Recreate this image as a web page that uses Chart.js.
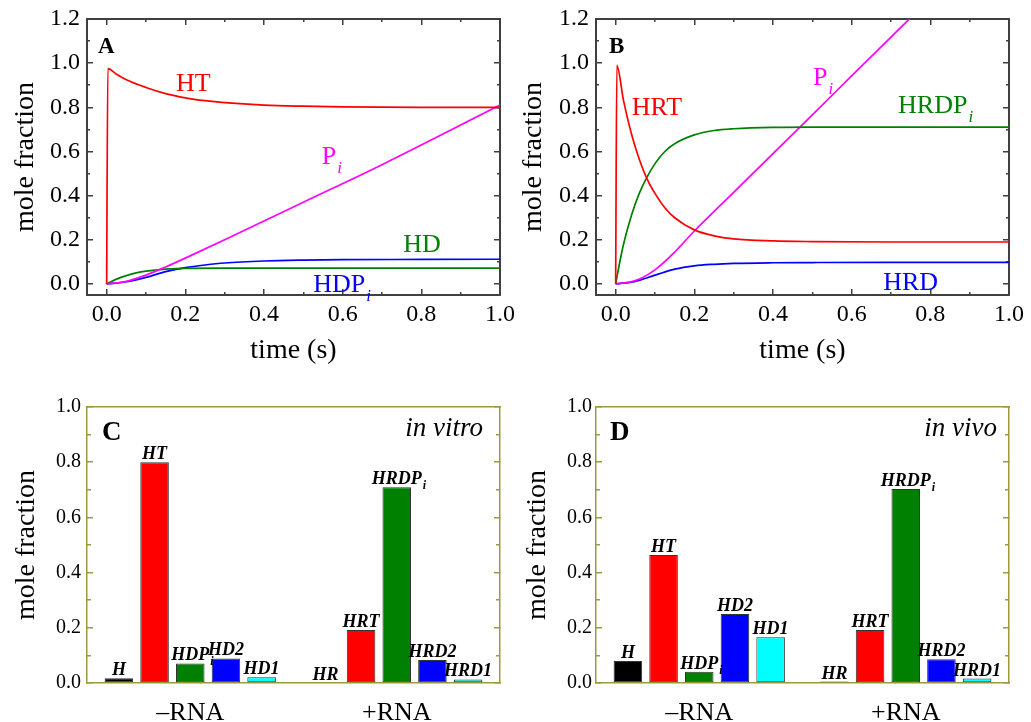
<!DOCTYPE html>
<html><head><meta charset="utf-8"><title>mole fraction</title>
<script src="https://cdn.jsdelivr.net/npm/chart.js@4.4.1/dist/chart.umd.min.js"></script>
<style>
html,body{margin:0;padding:0;background:#fff}
body{width:1031px;height:722px;position:relative;overflow:hidden}
canvas{position:absolute}
</style>
</head><body>
<canvas id="cA" width="515" height="380" style="left:0;top:0"></canvas>
<canvas id="cB" width="516" height="380" style="left:515px;top:0"></canvas>
<canvas id="cC" width="515" height="337" style="left:0;top:385px"></canvas>
<canvas id="cD" width="516" height="337" style="left:515px;top:385px"></canvas>
<script>
// ---------- tick values ----------
const lineXMajor = [0, 0.2, 0.4, 0.6, 0.8, 1.0];
const lineXMinor = [0.1, 0.3, 0.5, 0.7, 0.9];
const lineYMajor = [0, 0.2, 0.4, 0.6, 0.8, 1.0, 1.2];
const lineYMinor = [0.1, 0.3, 0.5, 0.7, 0.9, 1.1];
const barYMajor = [0, 0.2, 0.4, 0.6, 0.8, 1.0];
const barYMinor = [0.1, 0.3, 0.5, 0.7, 0.9];

// ---------- Panel A (no RNA): time (s) / mole fraction ----------
const aHT_t   = [0, 0.003, 0.025, 0.05, 0.1, 0.15, 0.2, 0.25, 0.3, 0.4, 0.5, 0.6, 0.8, 1.0];
const aHT_v   = [0, 0.975, 0.95, 0.925, 0.89, 0.862, 0.843, 0.83, 0.821, 0.81, 0.805, 0.802, 0.80, 0.80];
const aPi_t   = [0, 0.05, 0.1, 0.15, 0.2, 0.3, 0.5, 0.7, 1.0];
const aPi_v   = [0, 0.012, 0.04, 0.077, 0.117, 0.2, 0.37, 0.54, 0.81];
const aHD_t   = [0, 0.025, 0.05, 0.075, 0.1, 0.15, 0.2, 0.3, 0.5, 1.0];
const aHD_v   = [0, 0.022, 0.038, 0.05, 0.058, 0.067, 0.071, 0.072, 0.072, 0.072];
const aHDP_t  = [0, 0.05, 0.1, 0.15, 0.2, 0.25, 0.3, 0.4, 0.5, 0.6, 0.8, 1.0];
const aHDP_v  = [0, 0.01, 0.03, 0.056, 0.074, 0.086, 0.095, 0.104, 0.108, 0.11, 0.111, 0.112];

// ---------- Panel B (with RNA) ----------
const bHRT_t  = [0, 0.003, 0.02, 0.04, 0.06, 0.08, 0.1, 0.125, 0.15, 0.2, 0.25, 0.3, 0.4, 0.5, 0.7, 1.0];
const bHRT_v  = [0, 0.99, 0.83, 0.68, 0.565, 0.475, 0.41, 0.345, 0.3, 0.245, 0.218, 0.204, 0.195, 0.192, 0.19, 0.19];
const bHRDP_t = [0, 0.01, 0.02, 0.04, 0.06, 0.08, 0.1, 0.125, 0.15, 0.2, 0.25, 0.3, 0.4, 0.5, 1.0];
const bHRDP_v = [0, 0.095, 0.18, 0.31, 0.41, 0.485, 0.545, 0.6, 0.635, 0.675, 0.695, 0.703, 0.709, 0.71, 0.71];
const bPi_t   = [0, 0.05, 0.1, 0.15, 0.2, 0.3, 0.4, 0.5, 0.6, 0.7, 0.75];
const bPi_v   = [0, 0.015, 0.064, 0.144, 0.24, 0.415, 0.59, 0.766, 0.942, 1.118, 1.206];
const bHRD_t  = [0, 0.05, 0.1, 0.15, 0.2, 0.25, 0.3, 0.4, 0.5, 0.7, 1.0];
const bHRD_v  = [0, 0.012, 0.04, 0.067, 0.082, 0.089, 0.093, 0.096, 0.097, 0.098, 0.098];

// ---------- Panels C / D (bars) ----------
const barCategories = ['\u2013RNA', '+RNA'];
const minusNames = ['H', 'HT', 'HDP_i', 'HD2', 'HD1'];
const plusNames  = ['HR', 'HRT', 'HRDP_i', 'HRD2', 'HRD1'];
// in vitro: [-RNA, +RNA]
const cBlack = [0.017, 0];
const cRed   = [0.80, 0.192];
const cGreen = [0.071, 0.709];
const cBlue  = [0.089, 0.083];
const cCyan  = [0.021, 0.013];
// in vivo
const dBlack = [0.08, 0.005];
const dRed   = [0.464, 0.192];
const dGreen = [0.041, 0.703];
const dBlue  = [0.25, 0.086];
const dCyan  = [0.166, 0.016];

// ---------- styles ----------
const FONT = "'Liberation Serif', 'Times New Roman', serif";
const RED = '#ff0000', MAG = '#ff00ff', GRN = '#008000', BLU = '#0000ff', CYN = '#00ffff', BLK = '#000000';
const FRAME = '#404040', OLIVE = '#9c9a3c';
const barColors = [BLK, RED, GRN, BLU, CYN];

const pts = (t, v) => t.map((x, i) => ({x: x, y: v[i]}));
const setTicks = vals => s => { s.ticks = vals.map(v => ({value: v})); };
const fit = size => s => {
  if (s.isHorizontal()) s.height = size; else s.width = size;
  s.paddingLeft = 0; s.paddingRight = 0; s.paddingTop = 0; s.paddingBottom = 0;
};
const fmt = v => Number(v).toFixed(1);

function font(style, size) { return (style ? style + ' ' : '') + size + 'px ' + FONT; }

function drawSub(ctx, main, sub, x, y, style, size, subSize, subDy, align) {
  ctx.font = font(style, size);
  const w = ctx.measureText(main).width;
  const x0 = align === 'center' ? x - w / 2 : x;
  ctx.textAlign = 'left';
  ctx.textBaseline = 'alphabetic';
  ctx.fillText(main, x0, y);
  if (sub) {
    ctx.font = font(style.indexOf('bold') >= 0 ? 'bold italic' : 'italic', subSize);
    ctx.fillText(sub, x0 + w + 1, y + subDy);
  }
}

function notesPlugin(items, letter) {
  return {
    id: 'notes',
    afterDraw(chart) {
      const ctx = chart.ctx, ca = chart.chartArea;
      ctx.save();
      if (items) {
        const xs = chart.scales.x, ys = chart.scales.y;
        items.forEach(n => {
          ctx.fillStyle = n.color;
          drawSub(ctx, n.text, n.sub, xs.getPixelForValue(n.x), ys.getPixelForValue(n.y), '', 26, 17, 9, 'left');
        });
      }
      ctx.fillStyle = '#000';
      ctx.font = font('bold', letter.size);
      ctx.textAlign = 'left'; ctx.textBaseline = 'alphabetic';
      ctx.fillText(letter.text, ca.left + letter.dx, ca.top + letter.dy);
      if (letter.tag) {
        ctx.font = font('italic', 27);
        ctx.textAlign = 'right';
        ctx.fillText(letter.tag, ca.right - letter.tagDx, ca.top + 29);
      }
      ctx.restore();
    }
  };
}

const barLabelPlugin = {
  id: 'barLabels',
  afterDatasetsDraw(chart) {
    const ctx = chart.ctx;
    ctx.save();
    ctx.fillStyle = '#000';
    chart.data.datasets.forEach((ds, di) => {
      const meta = chart.getDatasetMeta(di);
      meta.data.forEach((el, i) => {
        const parts = ds.names[i].split('_');
        drawSub(ctx, parts[0], parts[1], el.x, el.y - 3, 'bold italic', 18, 12, 5, 'center');
      });
    });
    ctx.restore();
  }
};

function lineDS(label, t, v, color) {
  return {label: label, data: pts(t, v), borderColor: color, backgroundColor: color,
    borderWidth: 1.7, pointRadius: 0, cubicInterpolationMode: 'monotone', fill: false,
    xAxisID: 'x', yAxisID: 'y'};
}

function lineScales(yW, yTitlePad) {
  const frame = {display: true, color: FRAME, width: 2};
  const g = len => ({drawOnChartArea: false, tickLength: len, color: FRAME, tickColor: FRAME, lineWidth: 1.5, tickWidth: 1.5});
  const xb = {type: 'linear', min: -0.05, max: 1.0, axis: 'x'};
  const yb = {type: 'linear', min: -0.05, max: 1.2, axis: 'y'};
  return {
    x: Object.assign({}, xb, {position: 'bottom', weight: 1,
      afterBuildTicks: setTicks(lineXMajor), afterFit: fit(85),
      ticks: {autoSkip: false, maxRotation: 0, font: {family: FONT, size: 24}, color: '#000', padding: 11, callback: fmt},
      grid: g(-6), border: frame,
      title: {display: true, text: 'time (s)', color: '#000', font: {family: FONT, size: 28}, padding: {top: 0, bottom: 13}}}),
    xm: Object.assign({}, xb, {position: 'bottom', weight: 0,
      afterBuildTicks: setTicks(lineXMinor), afterFit: fit(0),
      ticks: {display: false}, grid: g(-3), border: {display: false}}),
    xt: Object.assign({}, xb, {position: 'top',
      afterBuildTicks: setTicks(lineXMajor), afterFit: fit(0),
      ticks: {display: false}, grid: g(-6), border: frame}),
    xtm: Object.assign({}, xb, {position: 'top',
      afterBuildTicks: setTicks(lineXMinor), afterFit: fit(0),
      ticks: {display: false}, grid: g(-3), border: {display: false}}),
    y: Object.assign({}, yb, {position: 'left', weight: 1,
      afterBuildTicks: setTicks(lineYMajor), afterFit: fit(yW),
      ticks: {autoSkip: false, font: {family: FONT, size: 24}, color: '#000', padding: 13, callback: fmt},
      grid: g(-6), border: frame,
      title: {display: true, text: 'mole fraction', color: '#000', font: {family: FONT, size: 28}, padding: {top: yTitlePad, bottom: 0}}}),
    ym: Object.assign({}, yb, {position: 'left', weight: 0,
      afterBuildTicks: setTicks(lineYMinor), afterFit: fit(0),
      ticks: {display: false}, grid: g(-3), border: {display: false}}),
    yr: Object.assign({}, yb, {position: 'right',
      afterBuildTicks: setTicks(lineYMajor), afterFit: fit(0),
      ticks: {display: false}, grid: g(-6), border: frame}),
    yrm: Object.assign({}, yb, {position: 'right',
      afterBuildTicks: setTicks(lineYMinor), afterFit: fit(0),
      ticks: {display: false}, grid: g(-3), border: {display: false}})
  };
}

function barScales(yW, yTitlePad, yTickPad) {
  const frame = {display: true, color: OLIVE, width: 1.5};
  const g = len => ({drawOnChartArea: false, tickLength: len, color: OLIVE, tickColor: OLIVE, lineWidth: 1.5, tickWidth: 1.5});
  const yb = {type: 'linear', min: 0, max: 1.0, axis: 'y'};
  return {
    x: {type: 'category', axis: 'x', position: 'bottom', offset: true, afterFit: fit(39),
      grid: {display: false}, border: frame,
      ticks: {font: {family: FONT, size: 26}, color: '#000', padding: 7, maxRotation: 0}},
    xt: {type: 'category', axis: 'x', position: 'top', offset: true, afterFit: fit(0),
      grid: {display: false}, border: frame, ticks: {display: false}},
    y: Object.assign({}, yb, {position: 'left', weight: 1,
      afterBuildTicks: setTicks(barYMajor), afterFit: fit(yW),
      ticks: {autoSkip: false, font: {family: FONT, size: 20}, color: '#000', padding: yTickPad, callback: fmt},
      grid: g(-6), border: frame,
      title: {display: true, text: 'mole fraction', color: '#000', font: {family: FONT, size: 28}, padding: {top: yTitlePad, bottom: 0}}}),
    ym: Object.assign({}, yb, {position: 'left', weight: 0,
      afterBuildTicks: setTicks(barYMinor), afterFit: fit(0),
      ticks: {display: false}, grid: g(-4), border: {display: false}}),
    yr: Object.assign({}, yb, {position: 'right',
      afterBuildTicks: setTicks(barYMajor), afterFit: fit(0),
      ticks: {display: false}, grid: g(-6), border: frame}),
    yrm: Object.assign({}, yb, {position: 'right',
      afterBuildTicks: setTicks(barYMinor), afterFit: fit(0),
      ticks: {display: false}, grid: g(-4), border: {display: false}})
  };
}

const baseOpts = {responsive: false, animation: false, devicePixelRatio: 1,
  plugins: {legend: {display: false}, tooltip: {enabled: false}}, events: []};

// Panel A
new Chart(document.getElementById('cA'), {
  type: 'line',
  data: {datasets: [
    lineDS('HT', aHT_t, aHT_v, RED),
    lineDS('Pi', aPi_t, aPi_v, MAG),
    lineDS('HD', aHD_t, aHD_v, GRN),
    lineDS('HDPi', aHDP_t, aHDP_v, BLU)
  ]},
  options: Object.assign({}, baseOpts, {
    layout: {padding: {left: 0, top: 19, right: 15, bottom: 0}},
    scales: lineScales(87, 9)
  }),
  plugins: [notesPlugin([
    {text: 'HT', x: 0.176, y: 0.876, color: RED},
    {text: 'P', sub: 'i', x: 0.547, y: 0.544, color: MAG},
    {text: 'HD', x: 0.754, y: 0.145, color: GRN},
    {text: 'HDP', sub: 'i', x: 0.525, y: -0.036, color: BLU}
  ], {text: 'A', size: 23, dx: 11, dy: 34})]
});

// Panel B
new Chart(document.getElementById('cB'), {
  type: 'line',
  data: {datasets: [
    lineDS('HRT', bHRT_t, bHRT_v, RED),
    lineDS('HRDPi', bHRDP_t, bHRDP_v, GRN),
    lineDS('Pi', bPi_t, bPi_v, MAG),
    lineDS('HRD', bHRD_t, bHRD_v, BLU)
  ]},
  options: Object.assign({}, baseOpts, {
    layout: {padding: {left: 0, top: 19, right: 22, bottom: 0}},
    scales: lineScales(81, 2)
  }),
  plugins: [notesPlugin([
    {text: 'HRT', x: 0.041, y: 0.767, color: RED},
    {text: 'P', sub: 'i', x: 0.502, y: 0.901, color: MAG},
    {text: 'HRDP', sub: 'i', x: 0.718, y: 0.776, color: GRN},
    {text: 'HRD', x: 0.68, y: -0.027, color: BLU}
  ], {text: 'B', size: 23, dx: 13, dy: 34})]
});

function barDatasets(series) {
  return series.map((vals, i) => ({
    label: minusNames[i], data: vals, names: [minusNames[i], plusNames[i]],
    backgroundColor: barColors[i], borderColor: '#333333', borderWidth: 1,
    borderSkipped: false, barPercentage: 0.8, categoryPercentage: 0.864,
    xAxisID: 'x', yAxisID: 'y'
  }));
}

// Panel C
new Chart(document.getElementById('cC'), {
  type: 'bar',
  data: {labels: barCategories, datasets: barDatasets([cBlack, cRed, cGreen, cBlue, cCyan])},
  options: Object.assign({}, baseOpts, {
    layout: {padding: {left: 0, top: 22, right: 15, bottom: 0}},
    scales: barScales(87, 10, 12)
  }),
  plugins: [barLabelPlugin, notesPlugin(null, {text: 'C', size: 27, dx: 15, dy: 33, tag: 'in vitro', tagDx: 17})]
});

// Panel D
new Chart(document.getElementById('cD'), {
  type: 'bar',
  data: {labels: barCategories, datasets: barDatasets([dBlack, dRed, dGreen, dBlue, dCyan])},
  options: Object.assign({}, baseOpts, {
    layout: {padding: {left: 0, top: 22, right: 22, bottom: 0}},
    scales: barScales(81, 6, 10)
  }),
  plugins: [barLabelPlugin, notesPlugin(null, {text: 'D', size: 27, dx: 14, dy: 33, tag: 'in vivo', tagDx: 12})]
});
</script>
</body></html>
